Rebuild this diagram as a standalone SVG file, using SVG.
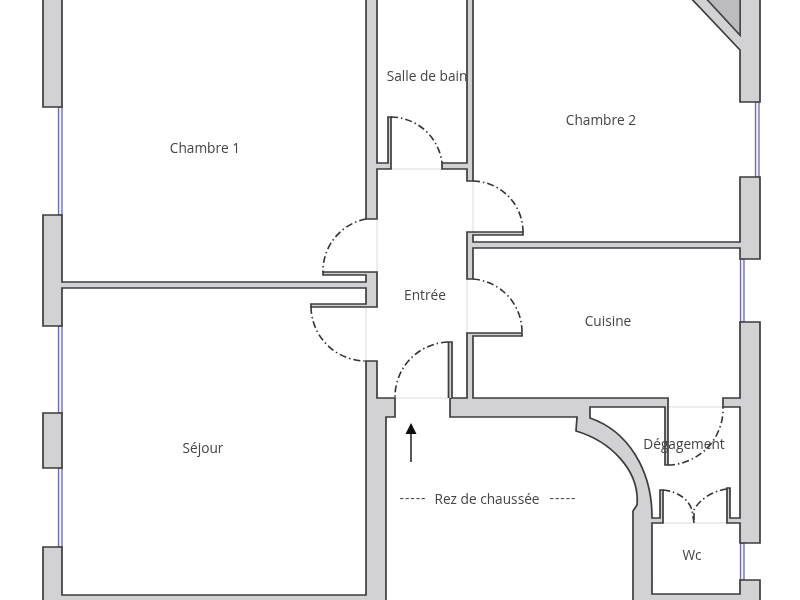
<svg xmlns="http://www.w3.org/2000/svg" width="800" height="600" viewBox="0 0 800 600">
<defs><filter id="soft" x="0" y="0" width="100%" height="100%" filterUnits="userSpaceOnUse"><feGaussianBlur stdDeviation="0.4"/></filter></defs>
<style>
.w{fill:#d2d2d4;stroke:#3c3c3c;stroke-width:1.7;stroke-linejoin:miter}
.g{fill:#bcbcbe;stroke:#444;stroke-width:1.4}
.win{fill:#f0f0f8;stroke:#6c6ca8;stroke-width:1.3}
.t{fill:none;stroke:#dcdcdc;stroke-width:1}
.d{fill:none;stroke:#333;stroke-width:1.6;stroke-dasharray:7 3 1.5 3}
text{font-family:"Open Sans","Noto Sans",sans-serif;font-size:13.7px;fill:#444;text-anchor:middle}
</style>
<rect width="800" height="600" fill="#fff"/>
<g filter="url(#soft)">
<g id="windows">
<rect class="win" x="58.500" y="107" width="3.500" height="108"/>
<rect class="win" x="58.500" y="326" width="3.500" height="87"/>
<rect class="win" x="58.500" y="468" width="3.500" height="79"/>
<rect class="win" x="755.500" y="102" width="3.500" height="75"/>
<rect class="win" x="740.500" y="259" width="3.500" height="63"/>
<rect class="win" x="740.500" y="543" width="3.500" height="37"/>
</g>
<g id="thresholds">
<path class="t" d="M377 219V272M390 169H442M473 181V232M467 279V333M366 307V361M395 398H450M668 407H723M662 523H727"/>
</g>
<g id="walls">
<path class="w" d="M43-5H62V107H43Z"/>
<path class="w" d="M43 413H62V468H43Z"/>
<path class="w" d="M43 215H62V282H366V275H323V272H377V307H311V304H366V288H62V326H43Z"/>
<path class="w" d="M43 547H62V595H366V361H377V398H395V417H386V605H43Z"/>
<path class="w" d="M366-5H377V163H388V117H391V169H377V219H366Z"/>
<path class="w" d="M467-5H473V181H467V169H442V163H467Z"/>
<path class="w" d="M688-5L740 50V102H760V-5H740V35L703-5Z"/>
<path class="g" d="M703-5L740 35V-5Z"/>
<path class="w" d="M467 232H523V235H473V242H740V177H760V259H740V248H473V279H467Z"/>
<path class="w" d="M467 333H522V336H473V398H668V465H665V407H590V418C628 431 652 470 652 517V518H660V490H663V523H652V594H740V580H760V605H633V511L637 505C640 470 610 441 576 431L577 417H450V398H467Z"/>
<path class="w" d="M723 398H740V322H760V543H740V523H727V488H730V518H740V407H723Z"/>
<path fill="#d2d2d4" stroke="#3c3c3c" stroke-width="1.700" d="M448.500 398V342H452V398"/>
</g>
<g id="door-swings">
<path class="d" d="M391 117A52 52 0 0 1 442 163"/>
<path class="d" d="M473 181A51 51 0 0 1 523 232"/>
<path class="d" d="M366 219A53 53 0 0 0 323 272"/>
<path class="d" d="M311 307A55 55 0 0 0 366 361"/>
<path class="d" d="M448 342A55 55 0 0 0 395 398"/>
<path class="d" d="M473 279A53 53 0 0 1 522 333"/>
<path class="d" d="M668 465A56 56 0 0 0 723 407"/>
<path class="d" d="M663 490C678 491 689 500 692 510L694 523"/>
<path class="d" d="M727 489C712 491 699 500 694 510L694 523"/>
</g>
<g id="entry-arrow">
<path d="M411 462V433" stroke="#444" stroke-width="1.800" fill="none"/>
<path d="M411 423L416.500 434H405.500Z" fill="#111"/>
</g>
<g id="labels">
<text x="205" y="153">Chambre 1</text>
<text x="601" y="125">Chambre 2</text>
<text x="427" y="81">Salle de bain</text>
<text x="425" y="300">Entrée</text>
<text x="608" y="326">Cuisine</text>
<text x="203" y="453">Séjour</text>
<text x="684" y="449">Dégagement</text>
<text x="692" y="560">Wc</text>
<text x="413" y="503" letter-spacing="1">-----</text>
<text x="487" y="504">Rez de chaussée</text>
<text x="563" y="503" letter-spacing="1">-----</text>
</g>
</g>
</svg>
